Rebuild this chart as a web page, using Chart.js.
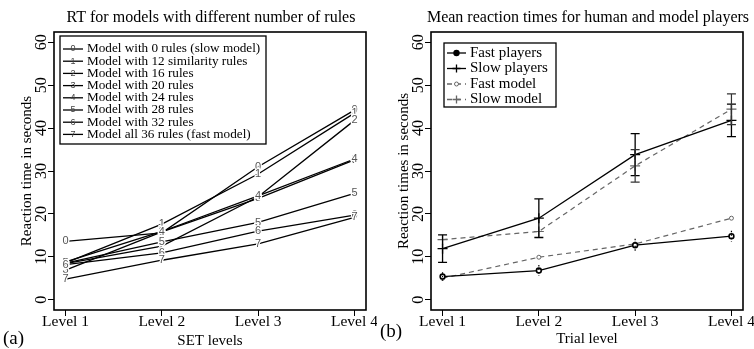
<!DOCTYPE html>
<html lang="en">
<head>
<meta charset="UTF-8">
<title>Reaction times</title>
<script src="https://cdn.jsdelivr.net/npm/chart.js"></script>
<style>
  body { margin: 0; background: #fff; }
  .wrap { display: flex; width: 754px; height: 349px; }
  .panel { position: relative; width: 377px; height: 349px; }
</style>
</head>
<body>
<div class="wrap">
  <div class="panel"><canvas id="rulesChart"></canvas></div>
  <div class="panel"><canvas id="playersChart"></canvas></div>
</div>
<script>
// data
const levels = ['Level 1', 'Level 2', 'Level 3', 'Level 4'];
const yTicks = [0, 10, 20, 30, 40, 50, 60];

const ruleLabels = [
  'Model with 0 rules (slow model)',
  'Model with 12 similarity rules',
  'Model with 16 rules',
  'Model with 20 rules',
  'Model with 24 rules',
  'Model with 28 rules',
  'Model with 32 rules',
  'Model all 36 rules (fast model)'
];
const rules0 = [13.6, 15.6, 31.0, 44.2];
const rules12 = [8.6, 17.6, 29.3, 43.5];
const rules16 = [8.4, 12.5, 24.0, 41.8];
const rules20 = [6.9, 15.8, 23.6, 32.6];
const rules24 = [8.8, 15.9, 24.2, 32.8];
const rules28 = [8.5, 13.5, 18.0, 24.8];
const rules32 = [8.2, 10.9, 16.0, 19.7];
const rules36 = [4.8, 9.2, 13.0, 19.2];

const fastPlayers = [5.4, 6.8, 12.7, 14.8];
const fastPlayersErr = [1.0, 1.3, 1.5, 1.3];
const slowPlayers = [11.9, 19.0, 33.8, 41.8];
const slowPlayersErr = [3.2, 4.5, 4.9, 3.8];
const fastModel = [5.0, 9.9, 13.0, 19.0];
const slowModel = [14.0, 15.9, 31.2, 44.4];
const slowModelErr = [null, null, 3.8, 3.6];

const SERIF = '"Liberation Serif", "DejaVu Serif", serif';
const GREY = '#666';

function pts(arr) {
  return arr.map((v, i) => ({ x: i + 1, y: v }));
}

// R-like frame, titles, rotated y labels, legend and extras
const rPlot = {
  id: 'rPlot',
  afterDatasetsDraw(chart) {
    const o = chart.options.plugins.rPlot;
    const ctx = chart.ctx;
    const y = chart.scales.y;
    ctx.save();
    if (o.errors) {
      o.errors.forEach(e => {
        const meta = chart.getDatasetMeta(e.dataset);
        meta.data.forEach((pt, i) => {
          const d = e.values[i];
          if (d == null) return;
          const v = chart.data.datasets[e.dataset].data[i].y;
          const y1 = y.getPixelForValue(v + d), y2 = y.getPixelForValue(v - d);
          ctx.strokeStyle = e.color;
          ctx.lineWidth = e.width;
          ctx.setLineDash(e.dash || []);
          ctx.beginPath();
          ctx.moveTo(pt.x, y1); ctx.lineTo(pt.x, y2);
          if (e.cap) {
            ctx.moveTo(pt.x - e.cap, y1); ctx.lineTo(pt.x + e.cap, y1);
            ctx.moveTo(pt.x - e.cap, y2); ctx.lineTo(pt.x + e.cap, y2);
          }
          ctx.stroke();
        });
      });
      ctx.setLineDash([]);
    }
    if (o.digits) {
      ctx.font = '11px "Liberation Sans", Arial, sans-serif';
      ctx.textAlign = 'center';
      ctx.textBaseline = 'middle';
      chart.data.datasets.forEach((ds, i) => {
        chart.getDatasetMeta(i).data.forEach(pt => {
          ctx.strokeStyle = '#fff';
          ctx.lineWidth = 2.5;
          ctx.strokeText(String(i), pt.x, pt.y);
          ctx.fillStyle = '#555';
          ctx.fillText(String(i), pt.x, pt.y);
        });
      });
    }
    ctx.restore();
  },
  afterDraw(chart) {
    const o = chart.options.plugins.rPlot;
    const ctx = chart.ctx;
    const ca = chart.chartArea;
    const y = chart.scales.y;
    const cx = (ca.left + ca.right) / 2, cy = (ca.top + ca.bottom) / 2;
    ctx.save();
    ctx.strokeStyle = '#000';
    ctx.lineWidth = 1.6;
    ctx.strokeRect(ca.left, ca.top, ca.right - ca.left, ca.bottom - ca.top);

    ctx.fillStyle = '#000';
    ctx.textAlign = 'center';
    ctx.textBaseline = 'middle';
    ctx.font = '16px ' + SERIF;
    ctx.fillText(o.title, cx + 1, 18);
    ctx.font = '15px ' + SERIF;
    ctx.fillText(o.xTitle, cx, o.xTitleY);

    ctx.font = '16px ' + SERIF;
    yTicks.forEach(v => {
      ctx.save();
      ctx.translate(42, y.getPixelForValue(v));
      ctx.rotate(-Math.PI / 2);
      ctx.fillText(String(v), 0, 0);
      ctx.restore();
    });
    ctx.font = '15px ' + SERIF;
    ctx.save();
    ctx.translate(27, cy);
    ctx.rotate(-Math.PI / 2);
    ctx.fillText(o.yTitle, 0, 0);
    ctx.restore();

    ctx.textAlign = 'left';
    ctx.font = '19px ' + SERIF;
    ctx.fillText(o.tag, o.tagX, o.tagY);

    // legend
    const L = o.legend;
    ctx.lineWidth = 1.3;
    ctx.strokeRect(L.x, L.y, L.w, L.h);
    ctx.font = L.size + 'px ' + SERIF;
    chart.data.datasets.forEach((ds, i) => {
      const ly = L.first + i * L.step;
      const x1 = L.x + 3, x2 = L.x + 3 + L.line;
      ctx.strokeStyle = ds.borderColor;
      ctx.lineWidth = 1.3;
      ctx.setLineDash(ds.borderDash || []);
      ctx.beginPath(); ctx.moveTo(x1, ly); ctx.lineTo(x2, ly); ctx.stroke();
      ctx.setLineDash([]);
      const mx = (x1 + x2) / 2;
      if (o.digits) {
        ctx.save();
        ctx.font = '9px "Liberation Sans", Arial, sans-serif';
        ctx.textAlign = 'center';
        ctx.fillStyle = '#444';
        ctx.fillText(String(i), mx, ly);
        ctx.restore();
      } else if (ds.pointStyle === 'cross') {
        ctx.beginPath();
        ctx.moveTo(mx - 4, ly); ctx.lineTo(mx + 4, ly);
        ctx.moveTo(mx, ly - 4); ctx.lineTo(mx, ly + 4);
        ctx.stroke();
      } else {
        ctx.beginPath();
        ctx.arc(mx, ly, ds.pointRadius, 0, Math.PI * 2);
        ctx.fillStyle = ds.legendFill;
        ctx.fill();
        ctx.lineWidth = ds.pointBorderWidth;
        ctx.stroke();
      }
      ctx.fillStyle = '#000';
      ctx.fillText(ds.label, L.x + L.textDx, ly);
    });
    ctx.restore();
  }
};

function makeChart(id, datasets, plot) {
  return new Chart(document.getElementById(id), {
    type: 'line',
    data: { datasets: datasets },
    plugins: [rPlot],
    options: {
      responsive: true,
      maintainAspectRatio: false,
      animation: false,
      devicePixelRatio: 1,
      layout: { padding: { top: 32, right: 11, left: 0, bottom: 0 } },
      plugins: {
        legend: { display: false },
        tooltip: { enabled: false },
        rPlot: plot
      },
      scales: {
        x: {
          type: 'linear',
          min: 0.88,
          max: 4.12,
          afterBuildTicks: s => { s.ticks = levels.map((l, i) => ({ value: i + 1 })); },
          afterFit: s => { s.height = 39; },
          ticks: {
            callback: v => levels[v - 1],
            font: { family: SERIF, size: 15.5 },
            color: '#000',
            padding: -3,
            maxRotation: 0,
            autoSkip: false
          },
          grid: { drawOnChartArea: false, drawTicks: true, tickLength: 6, color: '#000' },
          border: { display: false }
        },
        y: {
          type: 'linear',
          min: -2.4,
          max: 62.4,
          afterBuildTicks: s => { s.ticks = yTicks.map(v => ({ value: v })); },
          afterFit: s => { s.width = 54; },
          ticks: { display: false },
          grid: { drawOnChartArea: false, drawTicks: true, tickLength: 6, color: '#000' },
          border: { display: false }
        }
      }
    }
  });
}

const ruleSeries = [rules0, rules12, rules16, rules20, rules24, rules28, rules32, rules36];
makeChart('rulesChart', ruleSeries.map((s, i) => ({
  label: ruleLabels[i],
  data: pts(s),
  borderColor: '#000',
  borderWidth: 1.3,
  pointRadius: 0,
  fill: false
})), {
  title: 'RT for models with different number of rules',
  xTitle: 'SET levels',
  xTitleY: 341,
  yTitle: 'Reaction time in seconds',
  tag: '(a)',
  tagX: 3,
  tagY: 339,
  digits: true,
  legend: { x: 60, y: 36, w: 206, h: 108, first: 49, step: 12.2, line: 20, textDx: 27, size: 13.2 }
});

makeChart('playersChart', [
  {
    label: 'Fast players', data: pts(fastPlayers), borderColor: '#000', borderWidth: 1.3,
    pointStyle: 'circle', pointRadius: 2.4, pointBorderWidth: 1.6, pointBackgroundColor: '#fff',
    pointBorderColor: '#000', legendFill: '#000'
  },
  {
    label: 'Slow players', data: pts(slowPlayers), borderColor: '#000', borderWidth: 1.3,
    pointStyle: 'cross', pointRadius: 5, pointBorderWidth: 1.3, pointBorderColor: '#000'
  },
  {
    label: 'Fast model', data: pts(fastModel), borderColor: GREY, borderWidth: 1.2, borderDash: [5, 4],
    pointStyle: 'circle', pointRadius: 2, pointBorderWidth: 1, pointBackgroundColor: '#fff',
    pointBorderColor: GREY, legendFill: '#fff'
  },
  {
    label: 'Slow model', data: pts(slowModel), borderColor: GREY, borderWidth: 1.2, borderDash: [5, 4],
    pointStyle: 'cross', pointRadius: 5, pointBorderWidth: 1.2, pointBorderColor: GREY
  }
], {
  title: 'Mean reaction times for human and model players',
  xTitle: 'Trial level',
  xTitleY: 339,
  yTitle: 'Reaction times in seconds',
  tag: '(b)',
  tagX: 3,
  tagY: 332,
  digits: false,
  errors: [
    { dataset: 0, values: fastPlayersErr, color: '#000', width: 1.2, dash: [1.5, 2], cap: 0 },
    { dataset: 1, values: slowPlayersErr, color: '#000', width: 1.3, cap: 4.5 },
    { dataset: 3, values: slowModelErr, color: '#333', width: 1.2, cap: 4.5 }
  ],
  legend: { x: 67, y: 43, w: 112, h: 64, first: 53, step: 15.5, line: 19, textDx: 26, size: 15 }
});
</script>
</body>
</html>
